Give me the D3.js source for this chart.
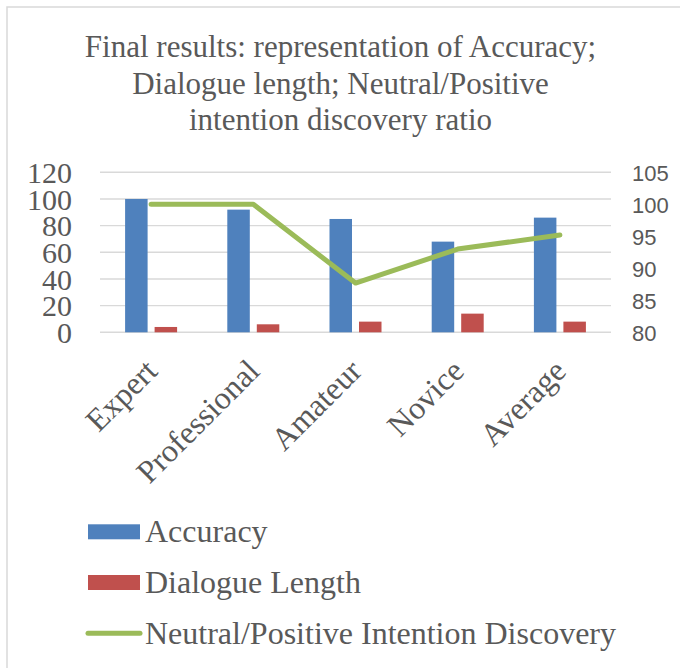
<!DOCTYPE html>
<html>
<head>
<meta charset="utf-8">
<script src="https://cdn.jsdelivr.net/npm/d3@7"></script>
<style>
  html, body { margin: 0; padding: 0; background: #fff; }
  svg { display: block; }
</style>
</head>
<body>
<svg id="chart" width="680" height="668"></svg>
<script>
const categories = ["Expert", "Professional", "Amateur", "Novice", "Average"];
const accuracy = [100, 92, 85, 68, 86];
const dialogueLength = [4, 6, 8, 14, 8];
const intentionDiscovery = [100, 100, 87.7, 93, 95.2];
const leftTicks = [0, 20, 40, 60, 80, 100, 120];
const rightTicks = [80, 85, 90, 95, 100, 105];
const titleLines = ["Final results: representation of Accuracy;", "Dialogue length; Neutral/Positive", "intention discovery ratio"];
const seriesNames = ["Accuracy", "Dialogue Length", "Neutral/Positive Intention Discovery"];

const colors = { blue: "#4F81BD", red: "#C0504D", green: "#9BBB59", grid: "#D9D9D9", text: "#595959" };
const serif = "'Liberation Serif', 'Times New Roman', serif";
const sans = "'Liberation Sans', Arial, sans-serif";

const svg = d3.select("#chart");

// chart border
svg.append("rect").attr("x", 7).attr("y", 7).attr("width", 700).attr("height", 700)
  .attr("fill", "none").attr("stroke", colors.grid).attr("stroke-width", 1.5);

// title
svg.append("text").attr("text-anchor", "middle").attr("fill", colors.text)
  .style("font-family", serif).style("font-size", "31px")
  .selectAll("tspan").data(titleLines).join("tspan")
  .attr("x", 340.5).attr("y", (d, i) => 57 + i * 36.6).text(d => d);

const plotLeft = 100, plotRight = 611, plotTop = 172.3, plotBottom = 332.3;

const x = d3.scaleBand().domain(categories).range([plotLeft, plotRight]).padding(0);
const yL = d3.scaleLinear().domain([0, 120]).range([plotBottom, plotTop]);
const yR = d3.scaleLinear().domain([80, 105]).range([plotBottom, plotTop]);

// gridlines
svg.append("g").selectAll("line").data(leftTicks).join("line")
  .attr("x1", plotLeft).attr("x2", plotRight)
  .attr("y1", d => yL(d)).attr("y2", d => yL(d))
  .attr("stroke", colors.grid).attr("stroke-width", 1.4);

// left axis
const leftAxis = d3.axisLeft(yL).tickValues(leftTicks).tickSize(0).tickPadding(0);
const gL = svg.append("g").attr("transform", "translate(72,0)").call(leftAxis);
gL.select(".domain").remove();
gL.selectAll("text").attr("fill", colors.text).style("font-family", serif).style("font-size", "30px")
  .attr("dy", "0.34em");

// right axis
const rightAxis = d3.axisRight(yR).tickValues(rightTicks).tickSize(0).tickPadding(0);
const gR = svg.append("g").attr("transform", "translate(632,0)").call(rightAxis);
gR.select(".domain").remove();
gR.selectAll("text").attr("fill", colors.text).style("font-family", sans).style("font-size", "22px")
  .attr("dy", "0.35em");

// bars
const barW = 22.5, gap = 7;
const cx = c => x(c) + x.bandwidth() / 2;
svg.append("g").selectAll("rect").data(categories).join("rect")
  .attr("x", c => cx(c) - gap / 2 - barW).attr("width", barW)
  .attr("y", (c, i) => yL(accuracy[i])).attr("height", (c, i) => yL(0) - yL(accuracy[i]))
  .attr("fill", colors.blue);
svg.append("g").selectAll("rect").data(categories).join("rect")
  .attr("x", c => cx(c) + gap / 2).attr("width", barW)
  .attr("y", (c, i) => yL(dialogueLength[i])).attr("height", (c, i) => yL(0) - yL(dialogueLength[i]))
  .attr("fill", colors.red);

// line
const line = d3.line().x(d => cx(d.c)).y(d => yR(d.v));
svg.append("path").datum(categories.map((c, i) => ({ c, v: intentionDiscovery[i] })))
  .attr("d", line).attr("fill", "none").attr("stroke", colors.green)
  .attr("stroke-width", 5).attr("stroke-linejoin", "round").attr("stroke-linecap", "round");

// x labels
svg.append("g").selectAll("text").data(categories).join("text")
  .attr("transform", c => `translate(${cx(c) + 8},373) rotate(-45)`)
  .attr("text-anchor", "end").attr("fill", colors.text)
  .style("font-family", serif).style("font-size", "32px").text(c => c);

// legend
const lg = svg.append("g");
const rowY = [531.8, 582.5, 633.3];
lg.append("rect").attr("x", 88).attr("y", rowY[0] - 7.5).attr("width", 52).attr("height", 15).attr("fill", colors.blue);
lg.append("rect").attr("x", 88).attr("y", rowY[1] - 7.5).attr("width", 52).attr("height", 15).attr("fill", colors.red);
lg.append("line").attr("x1", 88).attr("x2", 140).attr("y1", rowY[2]).attr("y2", rowY[2])
  .attr("stroke", colors.green).attr("stroke-width", 5).attr("stroke-linecap", "round");
lg.selectAll("text").data(seriesNames).join("text")
  .attr("x", 145).attr("y", (d, i) => rowY[i] + 10.5)
  .attr("fill", colors.text).style("font-family", serif).style("font-size", "32px").text(d => d);
</script>
</body>
</html>
